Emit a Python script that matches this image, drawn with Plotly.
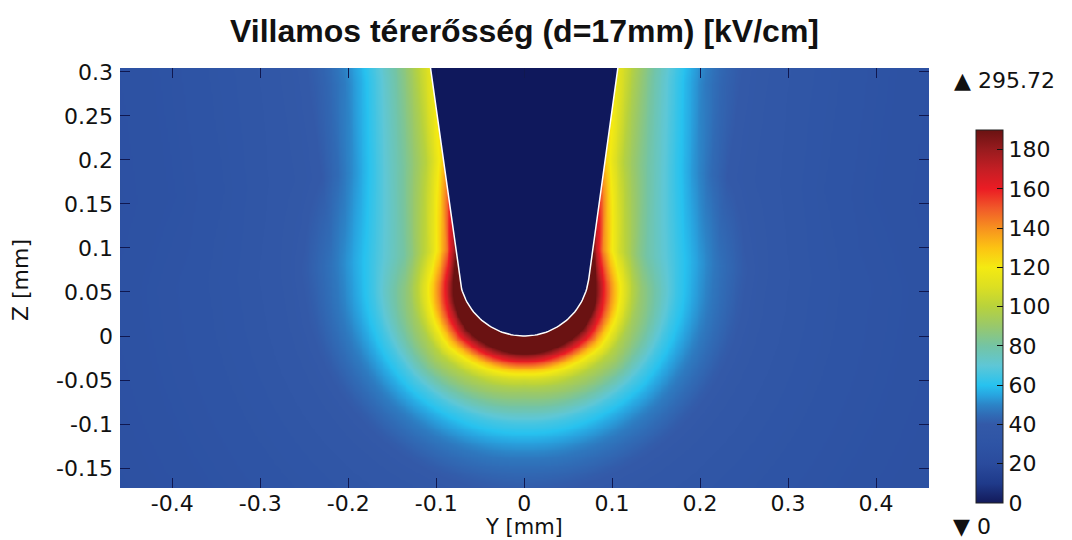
import numpy as np
import plotly.graph_objects as go

# ---------------- text ----------------
TITLE = "Villamos térerősség (d=17mm) [kV/cm]"
X_LABEL = "Y [mm]"
Y_LABEL = "Z [mm]"
MAX_LABEL = "▲ 295.72"
MIN_LABEL = "▼ 0"

# ---------------- axes ----------------
X_RANGE = [-0.4594, 0.4602]
Y_RANGE = [-0.1727, 0.3045]
X_TICKS = [-0.4, -0.3, -0.2, -0.1, 0, 0.1, 0.2, 0.3, 0.4]
X_TICK_TEXT = ["-0.4", "-0.3", "-0.2", "-0.1", "0", "0.1", "0.2", "0.3", "0.4"]
Y_TICKS = [-0.15, -0.1, -0.05, 0, 0.05, 0.1, 0.15, 0.2, 0.25, 0.3]
Y_TICK_TEXT = ["-0.15", "-0.1", "-0.05", "0", "0.05", "0.1", "0.15", "0.2", "0.25", "0.3"]
CBAR_TICKS = [0, 20, 40, 60, 80, 100, 120, 140, 160, 180]
C_MIN = 0
C_MAX = 190

# ---------------- needle geometry (mm) ----------------
TIP_RADIUS = 0.074
SIDE_SLOPE = 0.138

# ---------------- field profiles ----------------
# distance from the needle surface (mm)
DIST = [0, 0.01, 0.02, 0.03, 0.04, 0.05, 0.06, 0.08, 0.1, 0.12, 0.14, 0.17, 0.2, 0.25, 0.3, 0.4, 0.5]
# stations on the needle surface: tip (angle from axis) and side (height z)
STATION_TIP_ANGLES_DEG = [0, 45]
STATION_SIDE_Z = [0.1, 0.2, 0.3]
E_TIP_0 = [296, 235, 189, 156, 125, 105, 94, 80, 65, 55, 47, 41, 37, 33, 30, 27, 25]
E_TIP_45 = [280, 228, 188, 160, 134, 115, 100, 84, 67, 56, 48, 41, 37, 33, 30, 27, 25]
E_SIDE_Z01 = [185, 145, 123, 107, 97, 87, 80, 71, 62, 54, 47, 41, 37, 33, 30, 27, 25]
E_SIDE_Z02 = [128, 112, 100, 92, 85, 79, 74, 63, 53, 45, 40, 37, 35, 31, 28.5, 26, 25]
E_SIDE_Z03 = [114, 105, 95, 87, 80, 74, 68, 57, 48, 43, 40, 37, 34.5, 31, 28.5, 26, 25]

# ---------------- colour table ----------------
CSCALE_VALUES = [0, 10, 20, 30, 40, 45, 50, 55, 60, 70, 80, 90, 100, 110, 120, 130, 140, 150, 160, 170, 180, 190]
CSCALE_COLORS = ["#131a5a", "#1f3a8a", "#2a4b9d", "#2e54a5", "#3359a8", "#306cb6", "#2c84c7",
                 "#28a5e0", "#27c2ef", "#5ec7d6", "#74c4a4", "#98c86c", "#b8d23c", "#dcdf22",
                 "#f4ea12", "#fcc313", "#f7911f", "#f15a29", "#eb1c24", "#c41e24", "#981b1e", "#6a1212"]

FONT = "DejaVu Sans"

# ---------------- build field on a grid ----------------
r = TIP_RADIUS
th = np.arctan(SIDE_SLOPE)
sin_t, cos_t = np.sin(th), np.cos(th)
xT = r * cos_t
zT = r * (1 - sin_t)
a0 = r * (1 - sin_t) / cos_t
uT = r * (np.pi / 2 - th)

station_u = [r * np.deg2rad(ang) for ang in STATION_TIP_ANGLES_DEG] + \
            [uT + (zz - zT) / cos_t for zz in STATION_SIDE_Z]
station_u = np.array(station_u)
profiles = np.array([E_TIP_0, E_TIP_45, E_SIDE_Z01, E_SIDE_Z02, E_SIDE_Z03], dtype=float)

step = 0.002
xs = np.arange(-0.462, 0.4625, step)
zs = np.arange(-0.176, 0.3075, step)
X, Z = np.meshgrid(xs, zs)
ax = np.abs(X)

t = (ax - xT) * sin_t + (Z - zT) * cos_t
on_side = t > 0
dc = np.sqrt(ax ** 2 + (Z - r) ** 2) - r
phi = np.arctan2(ax, r - Z)
ds = (ax - a0 - SIDE_SLOPE * Z) * cos_t
d = np.where(on_side, ds, dc)
u = np.where(on_side, uT + t, r * phi)
d = np.clip(d, 0, None)

E_st = np.stack([np.interp(d, DIST, p) for p in profiles])
uu = np.clip(u, station_u[0], station_u[-1])
idx = np.clip(np.searchsorted(station_u, uu, side="right") - 1, 0, len(station_u) - 2)
w = (uu - station_u[idx]) / (station_u[idx + 1] - station_u[idx])
E0 = np.take_along_axis(E_st, idx[None], 0)[0]
E1 = np.take_along_axis(E_st, (idx + 1)[None], 0)[0]
E = (1 - w) * E0 + w * E1

# needle outline
angs = np.linspace(-(np.pi / 2 - th), np.pi / 2 - th, 80)
z_top = 0.34
nx = np.concatenate([[-(a0 + SIDE_SLOPE * z_top)], r * np.sin(angs), [a0 + SIDE_SLOPE * z_top]])
nz = np.concatenate([[z_top], r - r * np.cos(angs), [z_top]])
nx = np.append(nx, nx[0])
nz = np.append(nz, nz[0])

cscale = [[(v - C_MIN) / (C_MAX - C_MIN), c] for v, c in zip(CSCALE_VALUES, CSCALE_COLORS)]

fig = go.Figure()
fig.add_trace(go.Heatmap(
    x=xs, y=zs, z=np.round(E, 1), zmin=C_MIN, zmax=C_MAX, colorscale=cscale,
    zsmooth="best", hoverinfo="skip",
    colorbar=dict(
        x=1.0581, xanchor="left", xpad=0, y=0.4083, yanchor="middle", ypad=0,
        thickness=27, thicknessmode="pixels", len=373, lenmode="pixels",
        outlinewidth=1, outlinecolor="#222222",
        tickvals=CBAR_TICKS, ticktext=[str(v) for v in CBAR_TICKS],
        ticks="inside", ticklen=6, tickcolor="#111111",
        tickfont=dict(family=FONT, size=22, color="#111111"),
    ),
))
fig.add_trace(go.Scatter(
    x=nx, y=nz, mode="lines", fill="toself", fillcolor="#0f185c",
    line=dict(color="white", width=1.5), hoverinfo="skip", showlegend=False,
))

axis_common = dict(showgrid=False, zeroline=False, showline=False, ticks="inside",
                   ticklen=10, tickcolor="#101850", tickwidth=1, mirror="ticks",
                   tickfont=dict(family=FONT, size=22, color="#111111"))
# the page body adds an 8 px offset; the figure is sized to compensate
fig.update_layout(
    width=1064, height=532,
    margin=dict(l=112, r=143, t=60, b=52),
    paper_bgcolor="white", plot_bgcolor="white",
    showlegend=False,
    xaxis=dict(range=X_RANGE, tickvals=X_TICKS, ticktext=X_TICK_TEXT, **axis_common),
    yaxis=dict(range=Y_RANGE, tickvals=Y_TICKS, ticktext=Y_TICK_TEXT, ticklabelstandoff=6, **axis_common),
    annotations=[
        dict(text="<b>" + TITLE + "</b>", x=0.5005, y=1.088, xref="paper", yref="paper",
             xanchor="center", yanchor="middle", showarrow=False,
             font=dict(family="Liberation Sans", size=32, color="#111111")),
        dict(text=X_LABEL, x=0.4994, y=-0.1238, xref="paper", yref="paper",
             xanchor="center", yanchor="bottom", showarrow=False, borderpad=0,
             font=dict(family=FONT, size=21, color="#111111")),
        dict(text=Y_LABEL, x=-0.1236, y=0.495, xref="paper", yref="paper", textangle=-90,
             xanchor="center", yanchor="middle", showarrow=False,
             font=dict(family=FONT, size=22, color="#111111")),
        dict(text=MAX_LABEL, x=1.0284, y=0.971, xref="paper", yref="paper",
             xanchor="left", yanchor="middle", showarrow=False,
             font=dict(family=FONT, size=22, color="#111111")),
        dict(text=MIN_LABEL, x=1.0284, y=-0.1238, xref="paper", yref="paper",
             xanchor="left", yanchor="bottom", showarrow=False, borderpad=0,
             font=dict(family=FONT, size=22, color="#111111")),
    ],
)

fig.write_html("out.html")
